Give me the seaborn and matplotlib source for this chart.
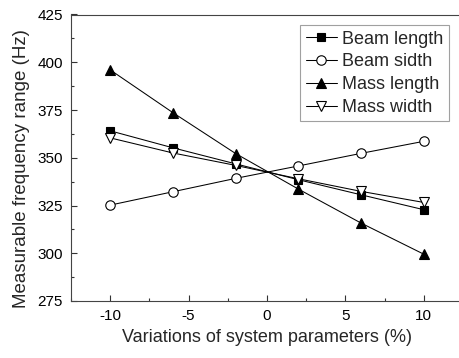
import seaborn as sns
import matplotlib.pyplot as plt
import pandas as pd
from matplotlib.ticker import MultipleLocator

variation = [-10, -6, -2, 2, 6, 10]
beam_length = [364.1, 355.2, 346.8, 338.5, 330.6, 322.8]
beam_width = [325.2, 332.2, 339.2, 345.7, 352.3, 358.6]
mass_length = [396.0, 373.6, 352.2, 333.6, 315.8, 299.5]
mass_width = [360.4, 352.5, 346.0, 339.0, 332.4, 326.6]

series = {
    "Beam length": (beam_length, "s", "black", 5.6),
    "Beam sidth": (beam_width, "o", "white", 6.8),
    "Mass length": (mass_length, "^", "black", 7.4),
    "Mass width": (mass_width, "v", "white", 7.4),
}

sns.set_style("ticks")
plt.rcParams["font.family"] = ["Liberation Sans", "DejaVu Sans"]
plt.rcParams["axes.unicode_minus"] = False

fig = plt.figure(figsize=(4.59, 3.58), dpi=100)
ax = fig.add_axes([71 / 459, 1 - 301 / 358, 392 / 459, 286.5 / 358])

for name, (vals, mk, fc, ms) in series.items():
    df = pd.DataFrame({"x": variation, "y": vals})
    sns.lineplot(data=df, x="x", y="y", ax=ax, color="black", lw=0.75,
                 marker=mk, markersize=ms, markerfacecolor=fc,
                 markeredgecolor="black", markeredgewidth=0.8, label=name)

ax.set_xlim(-12.5, 12.5)
ax.set_ylim(275, 425)
ax.xaxis.set_major_locator(MultipleLocator(5))
ax.xaxis.set_minor_locator(MultipleLocator(2.5))
ax.yaxis.set_major_locator(MultipleLocator(25))
ax.yaxis.set_minor_locator(MultipleLocator(12.5))
ax.tick_params(which="both", direction="in", labelsize=11, colors="#333333",
               labelcolor="black", width=0.8)
ax.tick_params(which="major", length=4, pad=6)
ax.tick_params(which="minor", length=2.5)
for sp in ax.spines.values():
    sp.set_color("#444444")
    sp.set_linewidth(0.8)

ax.set_xlabel("Variations of system parameters (%)", fontsize=13, labelpad=4)
ax.set_ylabel("Measurable frequency range (Hz)", fontsize=13.5, labelpad=5)
ax.yaxis.label.set_y(0.464)

leg = ax.legend(loc="upper right", bbox_to_anchor=(0.964, 0.963), borderaxespad=0,
                fontsize=13, fancybox=False, frameon=True, handlelength=1.75,
                handletextpad=0.28, labelspacing=0.32, borderpad=0.3)
leg.get_frame().set_edgecolor("#888888")
leg.get_frame().set_linewidth(0.8)

plt.savefig("out.png", dpi=100)
